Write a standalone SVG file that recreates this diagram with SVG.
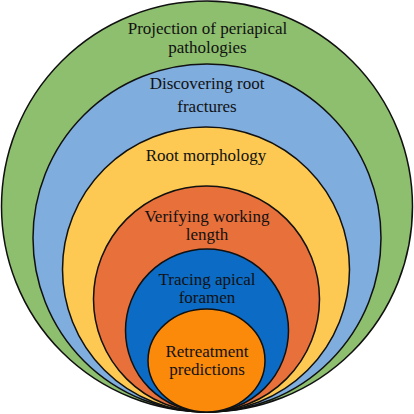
<svg xmlns="http://www.w3.org/2000/svg" width="414" height="414" viewBox="0 0 414 414">
<style>
.ring{stroke:#111;stroke-width:1.5}
.lbl{font-family:"Liberation Serif","Times New Roman",serif;font-size:17px;fill:#111;text-anchor:middle}
</style>
<rect width="414" height="414" fill="#fff"/>
<g id="connectors"></g>
<g id="n1"><circle class="ring" cx="207" cy="206.5" r="205.5" fill="#8dbf6f"/><text class="lbl" x="207.5" y="34">Projection of periapical</text><text class="lbl" x="207.5" y="53">pathologies</text></g>
<g id="n2"><circle class="ring" cx="207" cy="238" r="174" fill="#7fadde"/><text class="lbl" x="207" y="89">Discovering root</text><text class="lbl" x="207" y="112">fractures</text></g>
<g id="n3"><ellipse class="ring" cx="206" cy="269.5" rx="143.5" ry="142.5" fill="#fdc952"/><text class="lbl" x="206" y="161">Root morphology</text></g>
<g id="n4"><circle class="ring" cx="206.5" cy="299" r="113" fill="#e7703b"/><text class="lbl" x="207" y="222">Verifying working</text><text class="lbl" x="207" y="240">length</text></g>
<g id="n5"><circle class="ring" cx="207" cy="330.5" r="81.5" fill="#0b6bc5"/><text class="lbl" x="207" y="285">Tracing apical</text><text class="lbl" x="207" y="303">foramen</text></g>
<g id="n6"><ellipse class="ring" cx="206.5" cy="360.5" rx="58.5" ry="51.5" fill="#fb8a0b"/><text class="lbl" x="207" y="357">Retreatment</text><text class="lbl" x="207" y="375">predictions</text></g>
</svg>
